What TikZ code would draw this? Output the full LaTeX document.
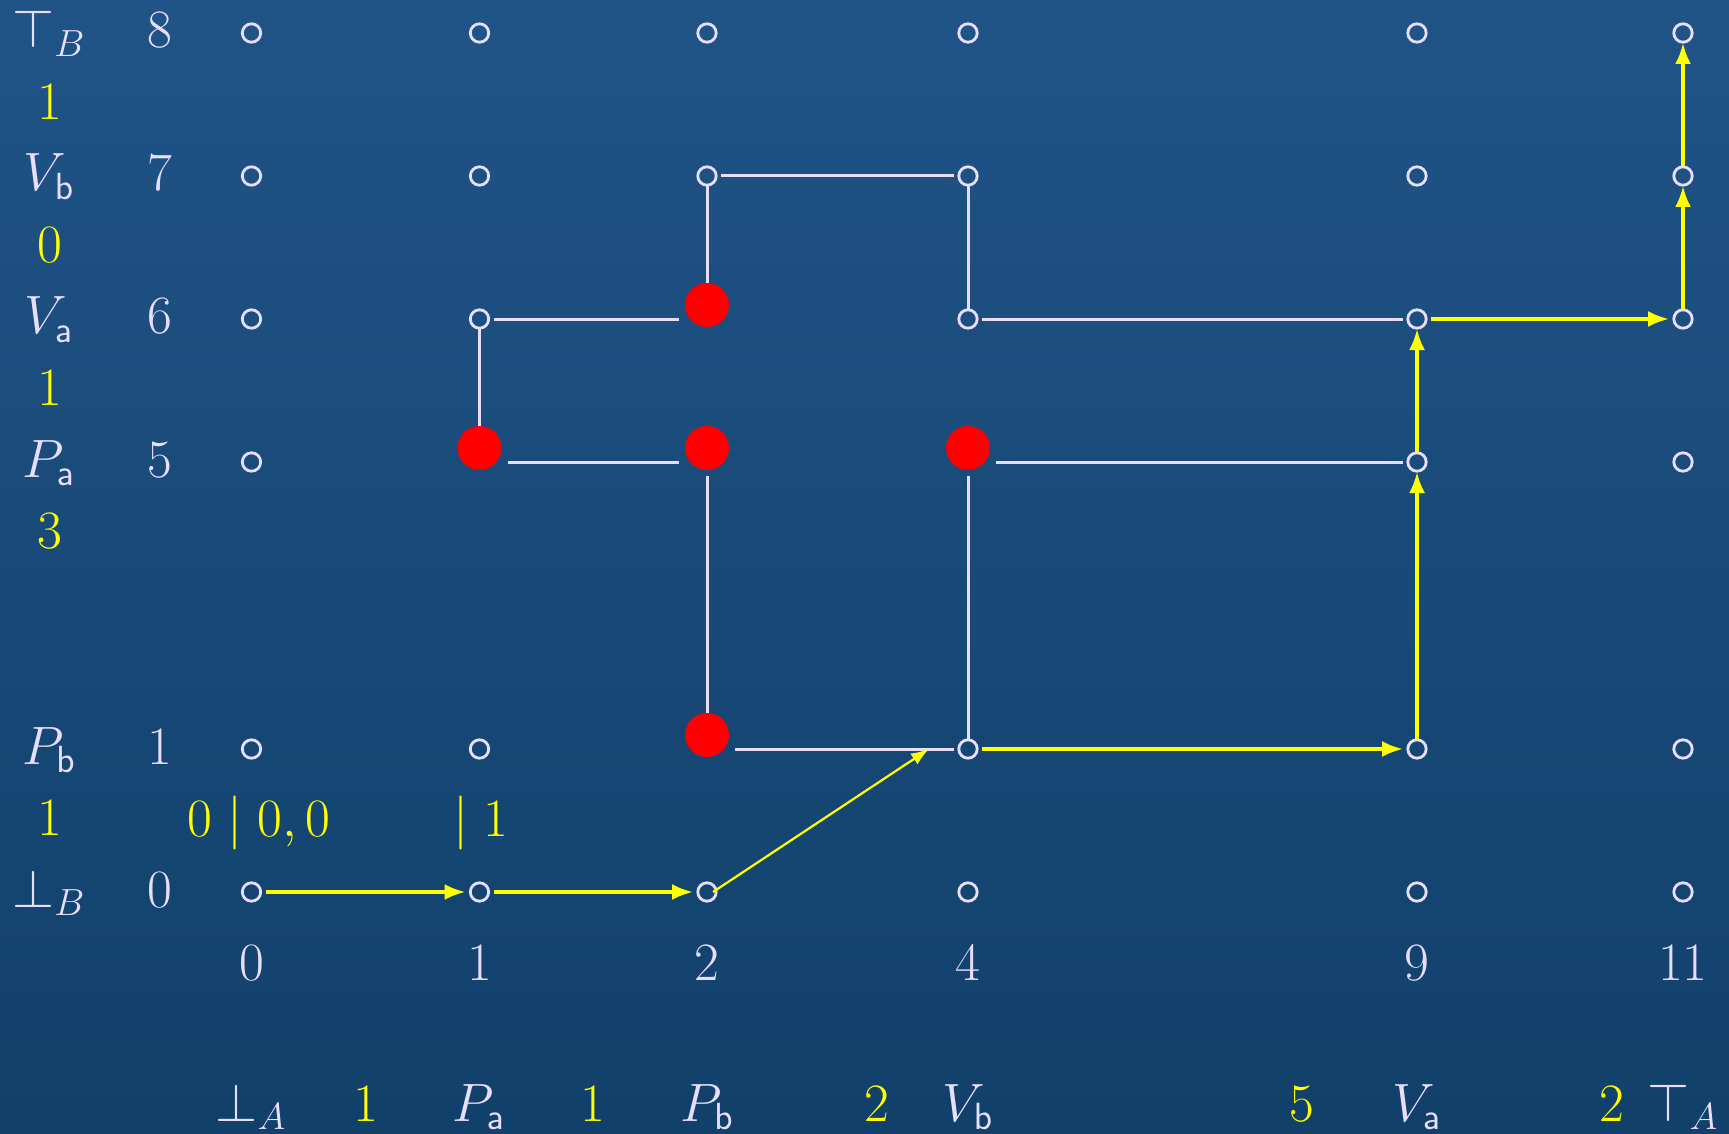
\documentclass[tikz,border=0pt]{standalone}
\usepackage{fix-cm}
\usetikzlibrary{arrows.meta}
\definecolor{bgtop}{RGB}{32,84,135}
\definecolor{bgbot}{RGB}{17,64,106}
\definecolor{txt}{RGB}{232,222,250}
\definecolor{yel}{RGB}{255,255,0}
\begin{document}
\begin{tikzpicture}[x=0.5pt,y=-0.5pt,
  lbl/.style={font=\fontsize{27}{32}\selectfont, text=txt, anchor=base, inner sep=0pt},
  ylbl/.style={lbl, text=yel},
  gridpt/.style={rectangle, minimum width=14pt, minimum height=10pt, inner sep=0pt, outer sep=0pt},
  redpt/.style={rectangle, minimum width=28pt, minimum height=14pt, inner sep=0pt, outer sep=0pt},
  ring/.style={draw=txt, line width=1.4pt},
  reddot/.style={fill=red},
  wline/.style={draw=txt, line width=1.5pt},
  yarrow/.style={draw=yel, line width=1.7pt, -{Latex[length=10.5pt,width=8pt]}},
  ydiag/.style={draw=yel, line width=1.1pt, -{Latex[length=9pt,width=6.5pt]}}
]
\useasboundingbox (0,0) rectangle (1729,1134);
\shade[top color=bgtop, bottom color=bgbot] (0,0) rectangle (1729,1134);

% column and row reference coordinates
\foreach \c/\x in {0/251.5,1/479.5,2/707,4/968,9/1417,11/1683}
  {\coordinate (c\c) at (\x,0);}
\foreach \r/\y in {0/892,1/749,5/462,6/319,7/176,8/33}
  {\coordinate (r\r) at (0,\y);}

% open grid points
\foreach \r/\cs in {8/{0,1,2,4,9,11}, 7/{0,1,2,4,9,11}, 6/{0,1,4,9,11},
                    5/{0,9,11}, 1/{0,1,4,9,11}, 0/{0,1,2,4,9,11}}
  {\foreach \c in \cs
    {\node[gridpt] (n\c-\r) at (c\c |- r\r) {};
     \draw[ring] (n\c-\r.center) circle[radius=4.6pt];}}

% red grid points (nodes)
\foreach \c/\r in {1/5, 2/6, 2/5, 2/1, 4/5}
  {\node[redpt] (n\c-\r) at (c\c |- r\r) {};}

% white connectors
\draw[wline] (n2-7) -- (n4-7);
\draw[wline] (n2-7) -- (n2-6);
\draw[wline] (n4-7) -- (n4-6);
\draw[wline] (n1-6) -- (n2-6);
\draw[wline] (n4-6) -- (n9-6);
\draw[wline] (n1-6) -- (n1-5);
\draw[wline] (n1-5) -- (n2-5);
\draw[wline] (n2-5) -- (n2-1);
\draw[wline] (n4-5) -- (n9-5);
\draw[wline] (n4-5) -- (n4-1);
\draw[wline] (n2-1) -- (n4-1);

% red dots
\foreach \c/\r in {1/5, 2/6, 2/5, 2/1, 4/5}
  {\fill[reddot] ([yshift=7pt]n\c-\r.center) circle[radius=11pt];}

% yellow path
\coordinate (dA) at (713,892);
\coordinate (dB) at (929,749);
\draw[yarrow] (n0-0) -- (n1-0);
\draw[yarrow] (n1-0) -- (n2-0);
\draw[ydiag] (dA) -- (dB);
\draw[yarrow] (n4-1) -- (n9-1);
\draw[yarrow] (n9-1) -- (n9-5);
\draw[yarrow] (n9-5) -- (n9-6);
\draw[yarrow] (n9-6) -- (n11-6);
\draw[yarrow] (n11-6) -- (n11-7);
\draw[yarrow] (n11-7) -- (n11-8);

% left labels
\node[lbl] (lt) at (49,48) {$\top_B$};
\node[lbl] (lvb) at (49,191) {$V_{\mathsf{b}}$};
\node[lbl] (lva) at (49,334) {$V_{\mathsf{a}}$};
\node[lbl] (lpa) at (49,477) {$P_{\mathsf{a}}$};
\node[lbl] (lpb) at (49,764) {$P_{\mathsf{b}}$};
\node[lbl] (lbot) at (49,907) {$\bot_B$};
\foreach \r/\y in {8/48,7/191,6/334,5/477,1/764,0/907}
  {\node[lbl] (rn\r) at (160,\y) {$\r$};}
\node[ylbl] (ly1) at (49.5,119.5) {$1$};
\node[ylbl] (ly2) at (49.5,262.5) {$0$};
\node[ylbl] (ly3) at (49.5,405.5) {$1$};
\node[ylbl] (ly4) at (49.5,548.5) {$3$};
\node[ylbl] (ly5) at (49.5,835.5) {$1$};

% column numbers
\foreach \c in {0,1,2,4,9,11}
  {\node[lbl] (cn\c) at ([yshift=-44pt]c\c |- r0) {$\c$};}

% yellow labels near bottom row
\node[ylbl] (s1) at (259,836) {$0\mid 0,0$};
\node[ylbl] (s2) at (481,836) {$\mid 1$};

% bottom labels
\node[lbl] (b0) at (251,1121) {$\bot_A$};
\node[ylbl] (bw1) at (366,1121) {$1$};
\node[lbl] (b1) at (479,1121) {$P_{\mathsf{a}}$};
\node[ylbl] (bw2) at (593,1121) {$1$};
\node[lbl] (b2) at (707,1121) {$P_{\mathsf{b}}$};
\node[ylbl] (bw3) at (876.5,1121) {$2$};
\node[lbl] (b3) at (968,1121) {$V_{\mathsf{b}}$};
\node[ylbl] (bw4) at (1302,1121) {$5$};
\node[lbl] (b4) at (1417,1121) {$V_{\mathsf{a}}$};
\node[ylbl] (bw5) at (1612,1121) {$2$};
\node[lbl] (b5) at (1683,1121) {$\top_A$};
\end{tikzpicture}
\end{document}
